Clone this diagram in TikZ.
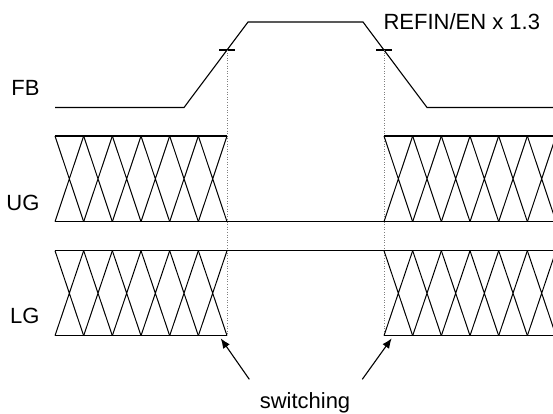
\documentclass[tikz,border=0pt]{standalone}
\usepackage{fontspec}
\setmainfont{Liberation Sans}
\usetikzlibrary{arrows.meta}

\tikzset{
  lbl/.style={font=\fontsize{22}{26}\selectfont,inner sep=0pt},
  hatch/.style={line width=1pt},
  guide/.style={gray,dotted,line width=0.6pt}
}

\begin{document}
\begin{tikzpicture}[x=1pt,y=-1pt,line width=1.1pt]
  \useasboundingbox (0,0) rectangle (553,413);
  \clip (0,0) rectangle (553,413);
  % FB waveform
  \draw (55,107.5)--(184,107.5)--(248,22)--(363,22)--(427,107.5)--(553,107.5);
  \draw (219,50)--(235,50);
  \draw (376,50)--(392,50);
  % guides
  \draw[guide] (227,50)--(227,335.7);
  \draw[guide] (384,50)--(384,335.7);
  % UG
  \draw (55,136)--(227,136);
  \draw (384,136)--(553,136);
  \draw (55,221.7)--(553,221.7);
  % LG
  \draw (55,250.7)--(553,250.7);
  \draw (55,335.7)--(227,335.7);
  \draw (384,335.7)--(553,335.7);
  % hatching
  \foreach \xs in {55,384}{
    \foreach \i in {0,...,5}{
      \pgfmathsetmacro{\xa}{\xs+\i*28.67}
      \pgfmathsetmacro{\xb}{\xa+28.67}
      \draw[hatch] (\xa,136)--(\xb,221.7) (\xa,221.7)--(\xb,136);
      \draw[hatch] (\xa,250.7)--(\xb,335.7) (\xa,335.7)--(\xb,250.7);
    }
  }
  % labels
  \node[lbl,anchor=east] (fb) at (40,88) {FB};
  \node[lbl,anchor=east] (ug) at (40,202.5) {UG};
  \node[lbl,anchor=east] (lg) at (40,316) {LG};
  \node[lbl,anchor=west] (ref) at (383,22) {REFIN/EN x 1.3};
  \node[lbl,anchor=base] (sw) at (305,408) {switching};
  % arrows
  \coordinate (swl) at (249.3,379.3);
  \coordinate (swr) at (362.3,379.3);
  \coordinate (edgel) at (220.7,338.3);
  \coordinate (edger) at (391.7,338.3);
  \draw[-{Latex[length=10pt,width=8pt]}] (swl)--(edgel);
  \draw[-{Latex[length=10pt,width=8pt]}] (swr)--(edger);
\end{tikzpicture}
\end{document}
